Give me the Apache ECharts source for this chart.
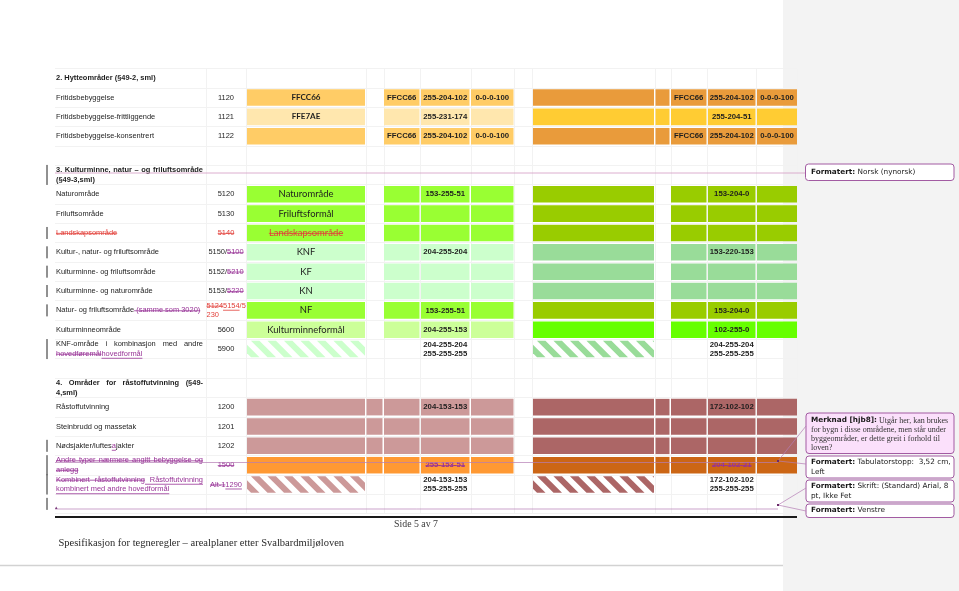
<!DOCTYPE html>
<html lang="no"><head><meta charset="utf-8"><title>Spesifikasjon for tegneregler</title>
<script src="https://cdn.jsdelivr.net/npm/echarts@6.0.0/dist/echarts.min.js"></script>
<style>html,body{margin:0;padding:0;background:#fff;overflow:hidden}#chart{width:959px;height:591px}</style>
</head><body><div id="chart"></div>
<script>
// ================= DATA =================
// markup: {tags|text}  b=bold r=red p=purple s=strike u=underline
const rowLabels = [
  "{b|2. Hytteområder (§49-2, sml)}",
  "Fritidsbebyggelse",
  "Fritidsbebyggelse-frittliggende",
  "Fritidsbebyggelse-konsentrert",
  "",
  "{b|3. Kulturminne, natur – og friluftsområde}\n{b|(§49-3,sml)}",
  "Naturområde",
  "Friluftsområde",
  "{rs|Landskapsområde}",
  "Kultur-, natur- og friluftsområde",
  "Kulturminne- og friluftsområde",
  "Kulturminne- og naturområde",
  "Natur- og friluftsområde{ps| (samme som 3020)}",
  "Kulturminneområde",
  "KNF-område i kombinasjon med andre\n{ps|hovedføremål}{pu|hovedformål}",
  "",
  "{b|4. Områder for råstoffutvinning (§49-}\n{b|4,sml)}",
  "Råstoffutvinning",
  "Steinbrudd og massetak",
  "Nødsjakter/luftes{pu|a}jakter",
  "{ps|Andre typer nærmere angitt bebyggelse og}\n{ps|anlegg}",
  "{ps|Kombinert råstoffutvinning}{pu| Råstoffutvinning}\n{pu|kombinert med andre hovedformål}",
  ""
];
const codes = ["","1120","1121","1122","","","5120","5130","{rs|5140}","5150/{ps|5100}","5152/{ps|5210}","5153/{ps|5220}",
  "{rs|5124}{ru|5154}{r|/5}\n{r|230}","5600","5900","","","1200","1201","1202","{ps|1500}","{ps|Alt-1}{pu|1290}",""];
const sectionOf = [2,2,2,2,0,3,3,3,3,3,3,3,3,3,3,0,4,4,4,4,4,4,4];
const changedRows = [5,8,9,10,11,12,14,19,20,21,22];

const mainText = ["","{b|FFCC66}","{b|FFE7AE}","","","","Naturområde","Friluftsformål","{rs|Landskapsområde}","KNF","KF","KN","NF","Kulturminneformål","","","","","","","","",""];
const mainFill = [null,"#ffcc66","#ffe7ae","#ffcc66",null,null,"#99ff33","#99ff33","#99ff33","#ccffcc","#ccffcc","#ccffcc","#99ff33","#ccff99",null,null,null,"#cc9999","#cc9999","#cc9999","#ff9933",null,null];
const mainHatch = [null,null,null,null,null,null,null,null,null,null,null,null,null,null,"#ccffcc",null,null,null,null,null,null,"#cc9999",null];
const screenFill = [null,"#ffcc66","#ffe7ae","#ffcc66",null,null,"#99ff33","#99ff33","#99ff33","#ccffcc","#ccffcc","#ccffcc","#99ff33","#ccff99",null,null,null,"#cc9999","#cc9999","#cc9999","#ff9933",null,null];
const printFill = [null,"#e99b3b","#ffcc33","#e99b3b",null,null,"#99cc00","#99cc00","#99cc00","#99dc99","#99dc99","#99dc99","#99cc00","#66ff00",null,null,null,"#ac6666","#ac6666","#ac6666","#cc6615",null,null];
const printHatch = [null,null,null,null,null,null,null,null,null,null,null,null,null,null,"#99dc99",null,null,null,null,null,null,"#ac6666",null];

const hexScreen  = ["","FFCC66","","FFCC66","","","","","","","","","","","","","","","","","","",""];
const rgbScreen  = ["","255-204-102","255-231-174","255-204-102","","","153-255-51","","","204-255-204","","","153-255-51","204-255-153","204-255-204\n255-255-255","","","204-153-153","","","{ps|255-153-51}","204-153-153\n255-255-255",""];
const cmykScreen = ["","0-0-0-100","","0-0-0-100","","","","","","","","","","","","","","","","","","",""];
const hexPrint   = ["","FFCC66","","FFCC66","","","","","","","","","","","","","","","","","","",""];
const rgbPrint   = ["","255-204-102","255-204-51","255-204-102","","","153-204-0","","","153-220-153","","","153-204-0","102-255-0","204-255-204\n255-255-255","","","172-102-102","","","{ps|204-102-21}","172-102-102\n255-255-255",""];
const cmykPrint  = ["","0-0-0-100","","0-0-0-100","","","","","","","","","","","","","","","","","","",""];

const pageText = { side: "Side 5 av 7", footer: "Spesifikasjon for tegneregler – arealplaner etter Svalbardmiljøloven" };

// ================= LAYOUT / STYLE =================
const LAYOUT = {
  labelX: 56, labelW: 147, codeL: 206.5, codeC: 226, changeX: 47, cellFrac: 0.855,
  main: [247, 365], narrow: [366.5, 382.5], hexA: [384, 419.5], rgbA: [421, 469.5], cmykA: [471, 513.5],
  big: [533, 654], small: [655.5, 669.5], hexB: [671, 706.5], rgbB: [708, 755.5], cmykB: [757, 797],
  gridEdges: [206, 246.5, 365.5, 383.5, 420, 470.5, 514, 532, 654.5, 670.5, 707, 756, 797]
};
const COLORS = { text: '#1e1e1e', red: '#e2403a', purple: '#983397', grid: '#f2f2f2', note: '#a25ba2' };
const ctx = document.createElement('canvas').getContext('2d');
function tw(t, font) { ctx.font = font; return ctx.measureText(t).width; }
function fit(text, family, bold, target) { return 10 * target / tw(text, (bold ? 'bold ' : '') + '10px ' + family); }
const SANS = '"Liberation Sans", Arial, sans-serif';
const LATO = 'Lato, "Open Sans", sans-serif';
const SERIF = '"Liberation Serif", "Times New Roman", serif';
const DJ = '"DejaVu Sans", Verdana, sans-serif';
const FONT = {
  label: { size: fit('Fritidsbebyggelse-konsentrert', SANS, false, 98), family: SANS },
  cell: { size: fit('255-204-102', SANS, true, 44), family: SANS, bold: true },
  main: { size: fit('Kulturminneformål', LATO, false, 77.5), boldSize: fit('FFCC66', LATO, true, 29), family: LATO }
};
const NOTE = fit('Formatert: Tabulatorstopp:  3,52 cm,', DJ, false, 134);
const NOTESERIF = fit('for bygn i disse områdene, men står under', SERIF, false, 135);

function parse(str) {
  return String(str).split('\n').map(line => {
    const segs = []; const re = /\{([a-z]+)\|([^}]*)\}|([^{]+)/g; let m;
    while ((m = re.exec(line))) segs.push(m[3] !== undefined ? { t: m[3], tags: '' } : { t: m[2], tags: m[1] });
    return segs;
  });
}
function fontOf(base, tags) {
  const bold = base.bold || tags.indexOf('b') >= 0;
  const size = (tags.indexOf('b') >= 0 && base.boldSize) ? base.boldSize : base.size;
  return (bold ? 'bold ' : '') + size.toFixed(2) + 'px ' + base.family;
}
function T(text, x, y, font, fill, z) {
  const o = { type: 'text', silent: true, style: { text, x, y, font, fill, align: 'left', verticalAlign: 'middle' } };
  if (z !== undefined) o.z = z; return o;
}
function L(x1, y1, x2, y2, stroke, w, z) {
  const o = { type: 'line', silent: true, shape: { x1, y1, x2, y2 }, style: { stroke, lineWidth: w || 0.8 } };
  if (z !== undefined) o.z = z; return o;
}
function textEls(str, base, x, yc, opt) {
  opt = opt || {}; const lh = opt.lh || 9.5; const lines = parse(str); const els = []; const n = lines.length;
  lines.forEach((segs, li) => {
    const y = yc + (li - (n - 1) / 2) * lh;
    let W = 0, spaces = 0;
    segs.forEach(s => { s.font = fontOf(base, s.tags); s.w = tw(s.t, s.font); W += s.w; spaces += (s.t.match(/ /g) || []).length; });
    let extra = 0;
    if (opt.justify && li < n - 1 && spaces > 0) extra = Math.max(0, (opt.justify - W) / spaces);
    let cx = opt.align === 'center' ? x - W / 2 : x;
    segs.forEach(s => {
      const color = s.tags.indexOf('r') >= 0 ? COLORS.red : s.tags.indexOf('p') >= 0 ? COLORS.purple : (opt.color || COLORS.text);
      const start = cx;
      if (extra > 0) {
        const words = s.t.split(' '); const sp = tw(' ', s.font) + extra;
        words.forEach((w, k) => { if (w) els.push(T(w, cx, y, s.font, color)); cx += tw(w, s.font); if (k < words.length - 1) cx += sp; });
      } else { if (s.t) els.push(T(s.t, cx, y, s.font, color)); cx += s.w; }
      if (s.tags.indexOf('s') >= 0) els.push(L(start, y + 0.4, cx, y + 0.4, color, 0.8));
      if (s.tags.indexOf('u') >= 0) { const uy = y + base.size * 0.6; els.push(L(start, uy, cx, uy, color, 0.8)); }
    });
  });
  return els;
}
function clipPoly(poly, f) {
  const out = [];
  for (let k = 0; k < poly.length; k++) {
    const a = poly[k], b = poly[(k + 1) % poly.length]; const fa = f(a), fb = f(b);
    if (fa >= 0) out.push(a);
    if ((fa >= 0) !== (fb >= 0)) { const t = fa / (fa - fb); out.push([a[0] + t * (b[0] - a[0]), a[1] + t * (b[1] - a[1])]); }
  }
  return out;
}
function stripes(x0, y0, x1, y1) {
  const period = 16.5, width = 8.5, phase = 4, res = [];
  for (let c = -(y1 - y0) - period + phase; c < x1 - x0; c += period) {
    let p = [[x0, y0], [x1, y0], [x1, y1], [x0, y1]];
    p = clipPoly(p, q => (q[0] - x0) - (q[1] - y0) - c);
    p = clipPoly(p, q => c + width - ((q[0] - x0) - (q[1] - y0)));
    if (p.length >= 3) res.push(p);
  }
  return res;
}

function renderRow(params, api) {
  const i = api.value(1);
  const P = v => api.coord([v, i])[0];
  const cy = api.coord([LAYOUT.labelX, i])[1];
  const band = api.size([0, 1])[1];
  const ch = band * LAYOUT.cellFrac; const top = cy - ch / 2, bot = cy + ch / 2;
  const sec = sectionOf[i]; const kids = [];
  const cell = (c, fill) => { if (fill) kids.push({ type: 'rect', shape: { x: P(c[0]), y: top, width: P(c[1]) - P(c[0]), height: ch }, style: { fill } }); };
  const hatch = (c, color) => { if (!color) return; stripes(P(c[0]), top, P(c[1]), bot).forEach(pts => kids.push({ type: 'polygon', shape: { points: pts }, style: { fill: color } })); };
  const mid = c => (P(c[0]) + P(c[1])) / 2;

  cell(LAYOUT.main, mainFill[i]); hatch(LAYOUT.main, mainHatch[i]);
  if (sec === 4) cell(LAYOUT.narrow, screenFill[i]);
  [LAYOUT.hexA, LAYOUT.rgbA, LAYOUT.cmykA].forEach(c => cell(c, screenFill[i]));
  cell(LAYOUT.big, printFill[i]); hatch(LAYOUT.big, printHatch[i]);
  if (sec !== 3) cell(LAYOUT.small, printFill[i]);
  [LAYOUT.hexB, LAYOUT.rgbB, LAYOUT.cmykB].forEach(c => cell(c, printFill[i]));

  kids.push(...textEls(rowLabels[i], FONT.label, P(LAYOUT.labelX), cy, { justify: LAYOUT.labelW, lh: 9.5 }));
  const code = codes[i];
  if (code.indexOf('\n') >= 0) kids.push(...textEls(code, FONT.label, P(LAYOUT.codeL), cy, { lh: 9.2 }));
  else kids.push(...textEls(code, FONT.label, P(LAYOUT.codeC), cy, { align: 'center' }));
  kids.push(...textEls(mainText[i], FONT.main, mid(LAYOUT.main), cy, { align: 'center' }));
  const cellTexts = [[hexScreen, LAYOUT.hexA], [rgbScreen, LAYOUT.rgbA], [cmykScreen, LAYOUT.cmykA],
                     [hexPrint, LAYOUT.hexB], [rgbPrint, LAYOUT.rgbB], [cmykPrint, LAYOUT.cmykB]];
  cellTexts.forEach(([arr, c]) => kids.push(...textEls(arr[i], FONT.cell, mid(c), cy, { align: 'center', lh: 8.8 })));

  if (changedRows.indexOf(i) >= 0) {
    const nl = Math.max(1, parse(rowLabels[i]).length); const h = nl > 1 ? 20 : 12;
    const x = api.coord([LAYOUT.changeX, i])[0];
    kids.push(L(x, cy - h / 2, x, cy + h / 2, '#222', 1));
  }
  return { type: 'group', children: kids };
}
function renderGrid(params, api) {
  const cs = params.coordSys; const kids = [];
  LAYOUT.gridEdges.forEach(e => { const x = Math.round(api.coord([e, 0])[0]) + 0.5; kids.push(L(x, cs.y, x, cs.y + cs.height, COLORS.grid, 1)); });
  return { type: 'group', children: kids };
}

// ================= PAGE DECORATIONS =================
const G = [];
G.push({ type: 'rect', z: -5, silent: true, shape: { x: 783, y: 0, width: 176, height: 591 }, style: { fill: '#f3f3f3' } });
G.push(L(0, 565.5, 783, 565.5, '#d2d2d2', 1.5));
G.push(L(55, 517, 797, 517, '#1a1a1a', 2, 50));
G.push(L(55, 173, 805, 173, '#d39ac3', 0.8, 50));
G.push(L(55, 462.5, 778, 462.5, '#b47cb4', 0.7, 50));
G.push(L(55, 509, 778, 509, '#b47cb4', 0.7, 50));
G.push(L(778, 461, 806, 426, '#b47cb4', 0.7, 50));
G.push(L(778, 461, 806, 464, '#b47cb4', 0.7, 50));
G.push(L(778, 505, 806, 488, '#b47cb4', 0.7, 50));
G.push(L(778, 505, 806, 511, '#b47cb4', 0.7, 50));
[[777, 460], [777, 504]].forEach(p => G.push({ type: 'rect', z: 51, silent: true, shape: { x: p[0], y: p[1], width: 2, height: 2 }, style: { fill: '#6a2a6a' } }));
G.push({ type: 'polygon', z: 51, silent: true, shape: { points: [[55, 509], [57.5, 509], [56.2, 506.5]] }, style: { fill: '#7a3a7a' } });
function box(x, y, w, h, fill) { G.push({ type: 'rect', z: 40, silent: true, shape: { x, y, width: w, height: h, r: 3 }, style: { fill, stroke: COLORS.note, lineWidth: 1 } }); }
box(805.5, 164, 148.5, 16.5, '#ffffff');
box(806, 413, 148, 40.5, '#fbe0fb');
box(806, 456, 148, 22, '#ffffff');
box(806, 480, 148, 22, '#ffffff');
box(806, 504, 148, 13.5, '#ffffff');
const nb = 'bold ' + NOTE.toFixed(2) + 'px ' + DJ, nr = NOTE.toFixed(2) + 'px ' + DJ, ns = NOTESERIF.toFixed(2) + 'px ' + SERIF;
function noteLine(parts, x, y) { let cx = x; parts.forEach(([t, f, c]) => { G.push(T(t, cx, y, f, c || '#1a1a1a', 60)); cx += tw(t, f); }); }
noteLine([['Formatert:', nb], [' Norsk (nynorsk)', nr]], 811, 172.5);
noteLine([['Merknad [hjb8]:', nb], [' Utgår her, kan brukes', ns, '#333']], 811, 420.5);
noteLine([['for bygn i disse områdene, men står under', ns, '#333']], 811, 430);
noteLine([['byggeområder, er dette greit i forhold til', ns, '#333']], 811, 439.3);
noteLine([['loven?', ns, '#333']], 811, 448);
noteLine([['Formatert:', nb], [' Tabulatorstopp:  3,52 cm,', nr]], 811, 462.5);
noteLine([['Left', nr]], 811, 472);
noteLine([['Formatert:', nb], [' Skrift: (Standard) Arial, 8', nr]], 811, 486.5);
noteLine([['pt, Ikke Fet', nr]], 811, 496);
noteLine([['Formatert:', nb], [' Venstre', nr]], 811, 510.5);
const sideF = fit(pageText.side, SERIF, false, 44).toFixed(2) + 'px ' + SERIF;
G.push(T(pageText.side, 416 - tw(pageText.side, sideF) / 2, 524.5, sideF, '#3a3a3a', 60));
const footF = fit(pageText.footer, SERIF, false, 286).toFixed(2) + 'px ' + SERIF;
G.push(T(pageText.footer, 58.5, 543, footF, '#2a2a2a', 60));

// ================= CHART =================
const chart = echarts.init(document.getElementById('chart'), null, { renderer: 'canvas' });
chart.setOption({
  animation: false,
  backgroundColor: '#ffffff',
  grid: { left: 55, right: 162, top: 68.5, bottom: 591 - (68.5 + rowLabels.length * 19.35) },
  xAxis: { type: 'value', min: 55, max: 797, show: false },
  yAxis: {
    type: 'category', inverse: true, data: rowLabels.map((_, i) => String(i)),
    axisLine: { show: false }, axisTick: { show: false }, axisLabel: { show: false, interval: 0 },
    splitLine: { show: true, interval: 0, lineStyle: { color: COLORS.grid, width: 1 } }
  },
  graphic: G,
  series: [
    { type: 'custom', name: 'grid', silent: true, z: 1, renderItem: renderGrid, data: [[55, 0]] },
    { type: 'custom', name: 'rows', silent: true, z: 3, renderItem: renderRow, data: rowLabels.map((_, i) => [LAYOUT.labelX, i]) }
  ]
});
</script>
</body></html>
